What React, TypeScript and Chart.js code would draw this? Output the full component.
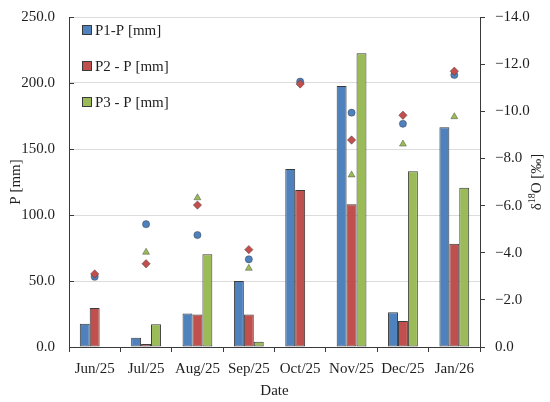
import { useRef, useEffect } from "react"
import { Chart, registerables } from "chart.js"

Chart.register(...registerables)

const months = ["Jun/25", "Jul/25", "Aug/25", "Sep/25", "Oct/25", "Nov/25", "Dec/25", "Jan/26"]

// precipitation [mm]
const p1Rain = [17.7, 7.1, 25.3, 50.0, 134.8, 197.7, 26.3, 166.4]
const p2Rain = [29.5, 2.3, 24.7, 24.7, 118.9, 108.1, 19.7, 78.3]
const p3Rain = [0, 17.2, 70.2, 4.0, 0, 222.5, 133.1, 120.7]

// δ18O [‰]
const p1Iso = [-2.98, -5.21, -4.75, -3.72, -11.26, -9.94, -9.47, -11.54]
const p2Iso = [-3.1, -3.53, -6.02, -4.13, -11.16, -8.78, -9.83, -11.7]
const p3Iso = [null, -4.02, -6.33, -3.34, null, -7.3, -8.61, -9.77]

const rainTicks = [0, 50, 100, 150, 200, 250]
const isoTicks = [0, -2, -4, -6, -8, -10, -12, -14]

const BLUE = "#4F81BD"
const RED = "#C0504D"
const GREEN = "#9BBB59"
const EDGE = "#3a3a3a"
const FONT = "'Liberation Serif', 'Times New Roman', serif"
const TEXT = "#1e1e1e"

const decorPlugin = {
  id: "decor",
  afterDraw(chart: any) {
    const ctx = chart.ctx
    const area = chart.chartArea
    const y = chart.scales.y

    // inward tick marks on the left axis
    ctx.save()
    ctx.strokeStyle = EDGE
    ctx.lineWidth = 1
    rainTicks.forEach((v) => {
      const py = Math.round(y.getPixelForValue(v)) + 0.5
      ctx.beginPath()
      ctx.moveTo(area.left, py)
      ctx.lineTo(area.left + 5, py)
      ctx.stroke()
    })

    // legend, bars only
    ctx.font = `15px ${FONT}`
    ctx.textBaseline = "middle"
    ctx.textAlign = "left"
    chart.data.datasets
      .filter((d: any) => d.type === "bar")
      .forEach((d: any, i: number) => {
        const lx = area.left + 13
        const ly = area.top + 13 + i * 36
        ctx.fillStyle = d.backgroundColor
        ctx.fillRect(lx, ly - 4.5, 9, 9)
        ctx.strokeStyle = EDGE
        ctx.strokeRect(lx + 0.5, ly - 4.5, 9, 9)
        ctx.fillStyle = TEXT
        ctx.fillText(d.label, lx + 13, ly + 1)
      })

    // right axis title, reading bottom to top
    const cx = 537
    const cy = (area.top + area.bottom) / 2
    ctx.translate(cx, cy)
    ctx.rotate(-Math.PI / 2)
    const big = `15px ${FONT}`
    const small = `10px ${FONT}`
    ctx.font = big
    const w1 = ctx.measureText("δ").width
    const w3 = ctx.measureText("O [‰]").width
    ctx.font = small
    const w2 = ctx.measureText("18").width
    let x = -(w1 + w2 + w3) / 2
    ctx.fillStyle = TEXT
    ctx.font = big
    ctx.fillText("δ", x, 0)
    x += w1
    ctx.font = small
    ctx.fillText("18", x, -5)
    x += w2
    ctx.font = big
    ctx.fillText("O [‰]", x, 0)
    ctx.restore()
  },
}

export default function App() {
  const canvasRef = useRef<HTMLCanvasElement | null>(null)
  const chartRef = useRef<Chart | null>(null)

  useEffect(() => {
    document.body.style.margin = "0"
    if (!canvasRef.current) return
    if (chartRef.current) chartRef.current.destroy()

    const ctx = canvasRef.current.getContext("2d")
    if (!ctx) return

    const bar = (label: string, data: number[], color: string) => ({
      type: "bar" as const,
      label,
      data,
      backgroundColor: color,
      borderColor: EDGE,
      borderWidth: 1,
      borderSkipped: false,
      yAxisID: "y",
      order: 2,
      barPercentage: 1,
      categoryPercentage: 0.58,
    })

    const dots = (label: string, data: (number | null)[], color: string, style: string, radius: number, order: number) => ({
      type: "line" as const,
      label,
      data,
      showLine: false,
      pointStyle: style,
      pointRadius: radius,
      pointBackgroundColor: color,
      pointBorderColor: "rgba(40,40,40,0.55)",
      pointBorderWidth: 0.7,
      backgroundColor: color,
      borderColor: color,
      yAxisID: "y1",
      order,
    })

    chartRef.current = new Chart(ctx, {
      type: "bar",
      data: {
        labels: months,
        datasets: [
          bar("P1-P [mm]", p1Rain, BLUE),
          bar("P2 - P [mm]", p2Rain, RED),
          bar("P3 - P [mm]", p3Rain, GREEN),
          dots("P1 δ18O", p1Iso, BLUE, "circle", 3.6, 1),
          dots("P2 δ18O", p2Iso, RED, "rectRot", 4.2, 0),
          dots("P3 δ18O", p3Iso, GREEN, "triangle", 4, 1),
        ] as any,
      },
      options: {
        responsive: false,
        animation: false,
        layout: { padding: { top: 17, left: 0, right: 0, bottom: 0 } },
        plugins: {
          legend: { display: false },
          tooltip: { enabled: false },
        },
        scales: {
          x: {
            offset: true,
            grid: {
              offset: true,
              drawOnChartArea: false,
              drawTicks: true,
              tickLength: 5,
              tickColor: EDGE,
            },
            border: { color: EDGE, width: 1 },
            ticks: {
              font: { family: FONT, size: 15 },
              color: TEXT,
              padding: 8,
              maxRotation: 0,
              autoSkip: false,
            },
            title: {
              display: true,
              text: "Date",
              font: { family: FONT, size: 15 },
              color: TEXT,
              padding: { top: 0, bottom: 2 },
            },
            afterFit: (s: any) => {
              s.height = 55
              s.paddingLeft = 0
              s.paddingRight = 0
            },
          },
          y: {
            position: "left",
            min: 0,
            max: 250,
            afterBuildTicks: (s: any) => {
              s.ticks = rainTicks.map((v) => ({ value: v }))
            },
            grid: {
              color: (c: any) => (c.tick && c.tick.value === 0 ? "rgba(0,0,0,0)" : "#dcdcdc"),
              drawTicks: false,
            },
            border: { color: EDGE, width: 1 },
            ticks: {
              font: { family: FONT, size: 15 },
              color: TEXT,
              padding: 14,
              callback: (v: any) => Number(v).toFixed(1),
            },
            title: {
              display: true,
              text: "P [mm]",
              font: { family: FONT, size: 15 },
              color: TEXT,
              padding: { top: 7, bottom: 0 },
            },
            afterFit: (s: any) => {
              s.width = 69
              s.paddingTop = 0
              s.paddingBottom = 0
            },
          },
          y1: {
            position: "right",
            min: -14,
            max: 0,
            reverse: true,
            afterBuildTicks: (s: any) => {
              s.ticks = isoTicks.map((v) => ({ value: v }))
            },
            grid: {
              drawOnChartArea: false,
              drawTicks: true,
              tickLength: 5,
              tickColor: EDGE,
            },
            border: { color: EDGE, width: 1 },
            ticks: {
              font: { family: FONT, size: 15 },
              color: TEXT,
              padding: 10,
              callback: (v: any) => (Number(v) === 0 ? "0.0" : "\u2212" + Math.abs(Number(v)).toFixed(1)),
            },
            afterFit: (s: any) => {
              s.width = 70
              s.paddingTop = 0
              s.paddingBottom = 0
            },
          },
        },
      },
      plugins: [decorPlugin],
    })

    return () => {
      if (chartRef.current) {
        chartRef.current.destroy()
        chartRef.current = null
      }
    }
  }, [])

  return (
    <div style={{ width: 550, height: 402, background: "#fff" }}>
      <canvas ref={canvasRef} width={550} height={402} style={{ display: "block" }} />
    </div>
  )
}
